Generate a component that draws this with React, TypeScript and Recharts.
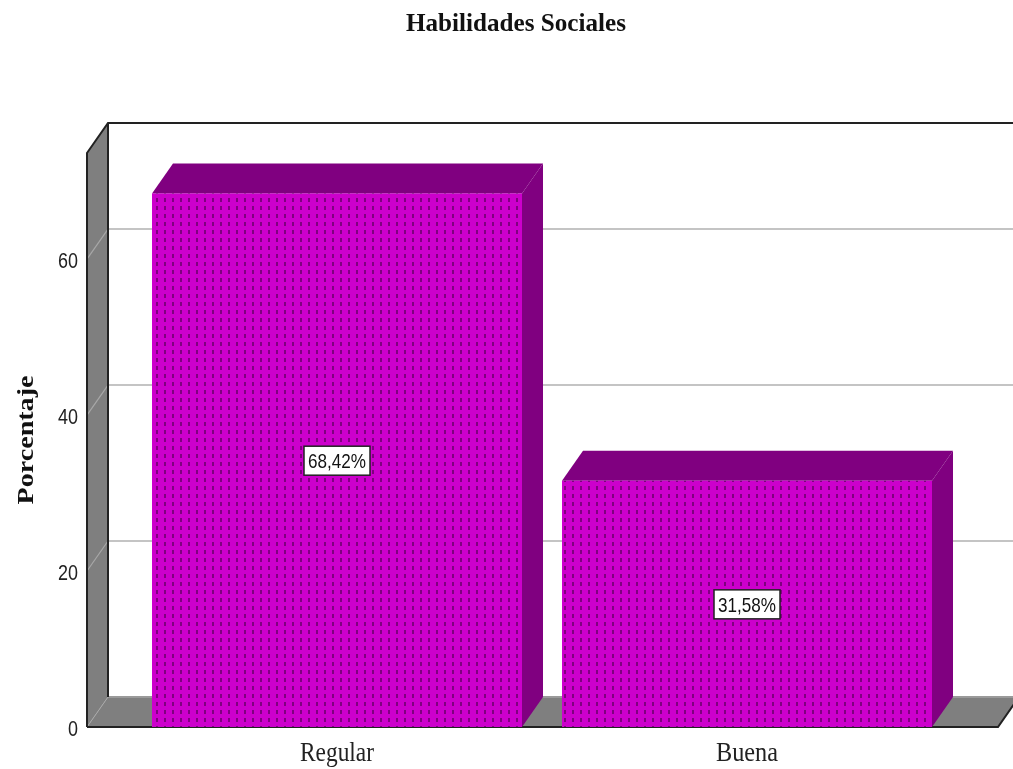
import { BarChart, Bar, XAxis, YAxis, ReferenceArea, LabelList } from "recharts";

const categorias = ["Regular", "Buena"];
const porcentajes = [68.42, 31.58];
const marcasY = [0, 20, 40, 60];
const maxY = 73.6;

const datos = categorias.map((nombre, i) => ({ nombre, porcentaje: porcentajes[i] }));

// chart depth of the fake 3D box
const DX = 21;
const DY = 30;
const PAD_IZQ = 45;
const PAD_DER = 46;

const GRIS = "#7f7f7f";
const LINEA = "#c4c4c4";
const OSCURO = "#222222";
const MORADO = "#800080";

function Caja(props: any) {
  const { y, height } = props;
  // the area only covers the padded band range, the box goes out to the plot edges
  const x = props.x - PAD_IZQ;
  const r = props.x + props.width + PAD_DER;
  const b = y + height;
  return (
    <g>
      <polygon points={`${x},${y} ${x + DX},${y - DY} ${x + DX},${b - DY} ${x},${b}`} fill={GRIS} />
      <polygon points={`${x},${b} ${x + DX},${b - DY} ${r + DX},${b - DY} ${r},${b}`} fill={GRIS} />
      {marcasY.filter((v) => v > 0).map((v) => {
        const yv = b - (v / maxY) * height;
        return (
          <g key={v}>
            <line x1={x} y1={yv} x2={x + DX} y2={yv - DY} stroke="#a8a8a8" strokeWidth={1.2} />
            <line x1={x + DX} y1={yv - DY} x2={r + DX} y2={yv - DY} stroke={LINEA} strokeWidth={2} />
          </g>
        );
      })}
      <line x1={x} y1={b} x2={x + DX} y2={b - DY} stroke="#a8a8a8" strokeWidth={1} />
      <line x1={x + DX} y1={b - DY} x2={r + DX} y2={b - DY} stroke="#9a9a9a" strokeWidth={2} />
      <polyline
        points={`${x},${b} ${x},${y} ${x + DX},${y - DY} ${r + DX},${y - DY}`}
        fill="none"
        stroke={OSCURO}
        strokeWidth={2}
      />
      <line x1={x + DX} y1={y - DY} x2={x + DX} y2={b - DY} stroke={OSCURO} strokeWidth={2} />
      <polyline points={`${x},${b} ${r},${b} ${r + DX},${b - DY}`} fill="none" stroke={OSCURO} strokeWidth={2} />
    </g>
  );
}

function Barra3D(props: any) {
  const { x, y, width, height } = props;
  const r = x + width;
  const b = y + height;
  return (
    <g>
      <polygon points={`${x},${y} ${x + DX},${y - DY} ${r + DX},${y - DY} ${r},${y}`} fill={MORADO} />
      <polygon points={`${r},${y} ${r + DX},${y - DY} ${r + DX},${b - DY} ${r},${b}`} fill={MORADO} />
      <rect x={x} y={y} width={width} height={height} fill="url(#puntos)" />
    </g>
  );
}

function Etiqueta(props: any) {
  const { x, y, width, height, value } = props;
  const cx = x + width / 2;
  const cy = y + height / 2;
  const texto = `${Number(value).toFixed(2).replace(".", ",")}%`;
  return (
    <g>
      <rect x={cx - 33} y={cy - 14} width={66} height={29} fill="#fff" stroke={OSCURO} strokeWidth={1.5} />
      <text
        x={cx}
        y={cy + 8}
        textAnchor="middle"
        fontFamily="Liberation Sans"
        fontSize={21}
        textLength={58}
        lengthAdjust="spacingAndGlyphs"
        fill="#111"
      >
        {texto}
      </text>
    </g>
  );
}

function TickX(props: any) {
  const { x, y, payload } = props;
  return (
    <text x={x} y={y + 26} textAnchor="middle" fontFamily="Liberation Serif" fontSize={27} fill="#222"
      textLength={payload.value === "Regular" ? 74 : 62} lengthAdjust="spacingAndGlyphs">
      {payload.value}
    </text>
  );
}

function TickY(props: any) {
  const { x, y, payload } = props;
  return (
    <text x={x - 2} y={y + 9} textAnchor="end" fontFamily="Liberation Sans" fontSize={22} fill="#222"
      textLength={payload.value === 0 ? 10 : 20} lengthAdjust="spacingAndGlyphs">
      {payload.value}
    </text>
  );
}

export default function App() {
  return (
    <div style={{ position: "absolute", left: 0, top: 0, width: 1013, height: 769, background: "#fff", filter: "blur(0.35px)" }}>
      <BarChart
        width={1013}
        height={769}
        data={datos}
        margin={{ top: 153, right: 15, bottom: 0, left: 0 }}
      >
        <defs>
          <pattern id="puntos" x={156} y={197} width={8} height={8} patternUnits="userSpaceOnUse">
            <rect width={8} height={8} fill="#cc00cc" />
            <rect x={0} y={1} width={2} height={4} fill={MORADO} />
          </pattern>
        </defs>
        <text x={516} y={31} textAnchor="middle" fontFamily="Liberation Serif" fontWeight="bold" fontSize={26}
          textLength={220} lengthAdjust="spacingAndGlyphs" fill="#111">
          Habilidades Sociales
        </text>
        <text
          transform="translate(33 440) rotate(-90)"
          textAnchor="middle"
          fontFamily="Liberation Serif"
          fontWeight="bold"
          fontSize={24}
          textLength={129}
          lengthAdjust="spacingAndGlyphs"
          fill="#111"
        >
          Porcentaje
        </text>
        <XAxis
          dataKey="nombre"
          height={42}
          padding={{ left: PAD_IZQ, right: PAD_DER }}
          axisLine={false}
          tickLine={false}
          tick={<TickX />}
        />
        <YAxis
          width={87}
          domain={[0, maxY]}
          ticks={marcasY}
          axisLine={false}
          tickLine={false}
          tickMargin={1}
          tick={<TickY />}
        />
        <ReferenceArea y1={0} y2={maxY} shape={<Caja />} ifOverflow="visible" />
        <Bar dataKey="porcentaje" barSize={370} shape={<Barra3D />} isAnimationActive={false}>
          <LabelList dataKey="porcentaje" content={<Etiqueta />} />
        </Bar>
      </BarChart>
    </div>
  );
}
